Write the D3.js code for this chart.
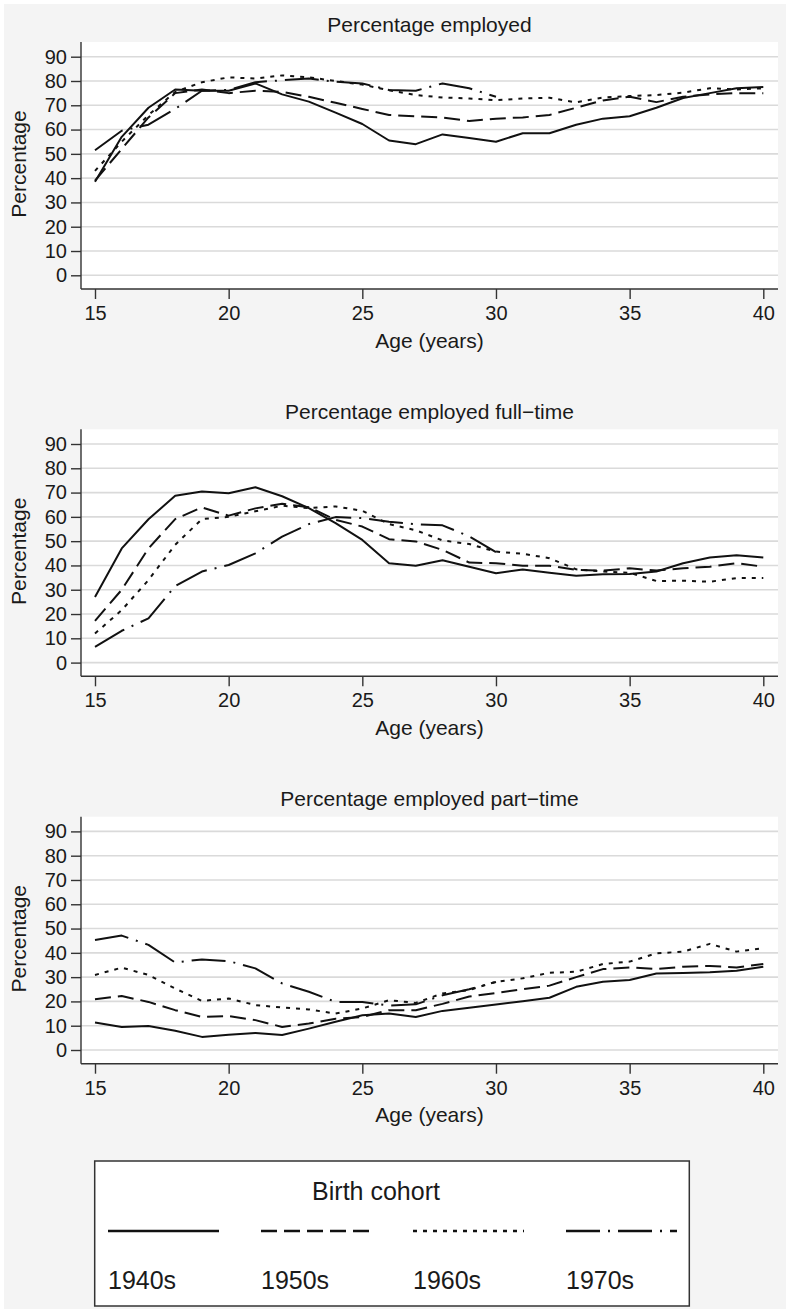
<!DOCTYPE html>
<html>
<head>
<meta charset="utf-8">
<script src="https://cdnjs.cloudflare.com/ajax/libs/d3/7.8.5/d3.min.js"></script>
<style>
  body { margin: 0; background: #ffffff; }
  svg text { font-family: "Liberation Sans", Arial, Helvetica, sans-serif; fill: #1a1a1a; }
</style>
</head>
<body>
<div id="chart"></div>
<script>
var svgWidth = 786;
var svgHeight = 1309;

// data
var ages = [15, 16, 17, 18, 19, 20, 21, 22, 23, 24, 25, 26, 27, 28, 29, 30, 31, 32, 33, 34, 35, 36, 37, 38, 39, 40];
var cohorts = ["1940s", "1950s", "1960s", "1970s"];
var yTicks = [0, 10, 20, 30, 40, 50, 60, 70, 80, 90];
var xTicks = [15, 20, 25, 30, 35, 40];
var panelTitles = ["Percentage employed", "Percentage employed full\u2212time", "Percentage employed part\u2212time"];

var employed1940s = [38.5, 57, 69, 76.5, 76, 76, 79, 74.5, 71.5, 67, 62.3, 55.5, 54, 58, 56.5, 55, 58.5, 58.5, 62, 64.5, 65.5, 69, 73, 75, 77, 77.5];
var employed1950s = [39, 52, 65, 75, 76.5, 75, 76, 75.5, 73.5, 71, 68.5, 66, 65.5, 65, 63.5, 64.5, 65, 66, 69, 72, 73.5, 71.3, 73.5, 74.5, 75, 75];
var employed1960s = [43, 55, 66, 75.5, 79.5, 81.5, 81, 82.3, 81.5, 80, 78.5, 76.2, 74.2, 73.2, 72.8, 72.1, 72.8, 73.1, 71.2, 73.2, 73.8, 74.2, 75.2, 77, 76.5, 77];
var employed1970s = [51.5, 59.5, 62, 68.5, 76, 76.3, 79.5, 80.3, 81, 79.7, 79, 76.3, 76, 79, 77, 73.5];

var fulltime1940s = [27, 47, 59, 68.7, 70.4, 69.7, 72.2, 68.5, 63.6, 57.4, 50.5, 40.9, 39.9, 42.1, 39.5, 36.8, 38.3, 37, 35.8, 36.4, 36.5, 37.5, 40.9, 43.3, 44.2, 43.3];
var fulltime1950s = [17.2, 30, 47, 59.1, 63.9, 60.5, 63.5, 65.4, 64, 58.8, 56, 50.8, 49.9, 46.4, 41.2, 40.9, 39.9, 39.9, 38.2, 37.9, 38.8, 37.9, 38.8, 39.5, 40.9, 39.5];
var fulltime1960s = [12, 21.6, 34, 48.5, 59.1, 60, 62.3, 64.6, 63.6, 64.3, 62.5, 57, 54.5, 50.3, 48.8, 45.7, 44.8, 43, 38.4, 37.5, 37, 33.6, 33.7, 33.3, 34.8, 34.8];
var fulltime1970s = [6.5, 13.1, 18.2, 31.5, 37.5, 40.2, 45, 51.9, 57, 59.9, 59.5, 58, 57, 56.5, 52, 45.5];

var parttime1940s = [11.3, 9.5, 9.9, 7.9, 5.4, 6.3, 7, 6.2, 8.8, 11.6, 14.3, 15, 13.6, 16.1, 17.4, 18.7, 20.1, 21.5, 26, 28.1, 28.8, 31.5, 31.7, 32, 32.6, 34.3];
var parttime1950s = [20.9, 22.2, 19.8, 16.4, 13.6, 14, 12.3, 9.5, 10.9, 12.9, 13.6, 16.4, 16.4, 19, 22, 23.5, 25, 26.5, 30, 33.3, 34, 33.3, 34.3, 34.6, 34, 35.4];
var parttime1960s = [30.9, 33.9, 30.9, 25.3, 20.2, 21.2, 18.5, 17.5, 16.7, 15, 17.1, 20.5, 19.4, 23.3, 24.7, 28.1, 29.5, 31.8, 32.2, 35.4, 36.4, 39.8, 40.5, 43.7, 40.5, 41.9];
var parttime1970s = [45.3, 47.1, 43.3, 36, 37.3, 36.6, 33.6, 27.4, 24, 19.8, 19.8, 18.3, 18.8, 22.5, 25, 28];

var panelData = [
  [employed1940s, employed1950s, employed1960s, employed1970s],
  [fulltime1940s, fulltime1950s, fulltime1960s, fulltime1970s],
  [parttime1940s, parttime1950s, parttime1960s, parttime1970s]
];

// line patterns for each cohort
var dashes = ["none", "16,7", "4,6", "34,8,2,8"];

var panelOffsets = [0, 387.3, 774.7];

var svg = d3.select("#chart")
  .append("svg")
  .attr("width", svgWidth)
  .attr("height", svgHeight);

// grey page background
svg.append("rect")
  .attr("x", 4)
  .attr("y", 4)
  .attr("width", svgWidth - 4)
  .attr("height", svgHeight - 4)
  .attr("fill", "#f4f4f4");

var plotLeft = 81, plotRight = 778;

var xScale = d3.scaleLinear()
  .domain([15, 40])
  .range([95, 763.3]);

panelData.forEach(function(series, p) {
  var off = panelOffsets[p];
  var g = svg.append("g").attr("transform", `translate(0, ${off})`);

  var yScale = d3.scaleLinear()
    .domain([0, 90])
    .range([275.3, 56.7]);

  var plotTop = 42, plotBottom = 289;

  // white plot region
  g.append("rect")
    .attr("x", plotLeft)
    .attr("y", plotTop)
    .attr("width", plotRight - plotLeft)
    .attr("height", plotBottom - plotTop)
    .attr("fill", "#ffffff");

  // gridlines
  g.selectAll(".grid")
    .data(yTicks)
    .enter()
    .append("line")
    .attr("x1", plotLeft)
    .attr("x2", plotRight)
    .attr("y1", d => yScale(d))
    .attr("y2", d => yScale(d))
    .attr("stroke", "#dadada")
    .attr("stroke-width", 1.6);

  // axes
  var leftAxis = d3.axisLeft(yScale).tickValues(yTicks).tickSize(10).tickPadding(4);
  var bottomAxis = d3.axisBottom(xScale).tickValues(xTicks).tickSize(10).tickPadding(7);

  var yAxis = g.append("g")
    .attr("transform", `translate(${plotLeft}, 0)`)
    .call(leftAxis);

  var xAxis = g.append("g")
    .attr("transform", `translate(0, ${plotBottom})`)
    .call(bottomAxis);

  [yAxis, xAxis].forEach(function(ax) {
    ax.select(".domain").remove();
    ax.selectAll(".tick line").attr("stroke", "#333333").attr("stroke-width", 1.4);
    ax.selectAll(".tick text").attr("font-size", "20px").attr("fill", "#1a1a1a");
  });

  // axis lines
  g.append("line")
    .attr("x1", plotLeft).attr("x2", plotLeft)
    .attr("y1", plotTop).attr("y2", plotBottom)
    .attr("stroke", "#333333").attr("stroke-width", 1.4);
  g.append("line")
    .attr("x1", plotLeft).attr("x2", plotRight)
    .attr("y1", plotBottom).attr("y2", plotBottom)
    .attr("stroke", "#333333").attr("stroke-width", 1.4);

  // cohort lines
  var line = d3.line()
    .x((d, i) => xScale(ages[i]))
    .y(d => yScale(d));

  series.forEach(function(vals, c) {
    g.append("path")
      .datum(vals)
      .attr("fill", "none")
      .attr("stroke", "#111111")
      .attr("stroke-width", 2)
      .attr("stroke-dasharray", dashes[c])
      .attr("stroke-linejoin", "round")
      .attr("d", line);
  });

  // titles
  g.append("text")
    .attr("x", (plotLeft + plotRight) / 2)
    .attr("y", 31.5)
    .attr("text-anchor", "middle")
    .attr("font-size", "21px")
    .text(panelTitles[p]);

  g.append("text")
    .attr("x", (plotLeft + plotRight) / 2)
    .attr("y", 347.5)
    .attr("text-anchor", "middle")
    .attr("font-size", "21px")
    .text("Age (years)");

  g.append("text")
    .attr("transform", `translate(25.5, 164) rotate(-90)`)
    .attr("text-anchor", "middle")
    .attr("font-size", "21px")
    .text("Percentage");
});

// legend
var legend = svg.append("g");

legend.append("rect")
  .attr("x", 94.7)
  .attr("y", 1161)
  .attr("width", 594.6)
  .attr("height", 145)
  .attr("fill", "#ffffff")
  .attr("stroke", "#333333")
  .attr("stroke-width", 1.5);

legend.append("text")
  .attr("x", 376)
  .attr("y", 1200)
  .attr("text-anchor", "middle")
  .attr("font-size", "25px")
  .text("Birth cohort");

var legendX = [108, 261, 413, 566];

cohorts.forEach(function(c, i) {
  legend.append("line")
    .attr("x1", legendX[i])
    .attr("x2", legendX[i] + 111)
    .attr("y1", 1231)
    .attr("y2", 1231)
    .attr("stroke", "#111111")
    .attr("stroke-width", 2.3)
    .attr("stroke-dasharray", dashes[i]);

  legend.append("text")
    .attr("x", legendX[i])
    .attr("y", 1289)
    .attr("font-size", "25px")
    .text(c);
});
</script>
</body>
</html>
